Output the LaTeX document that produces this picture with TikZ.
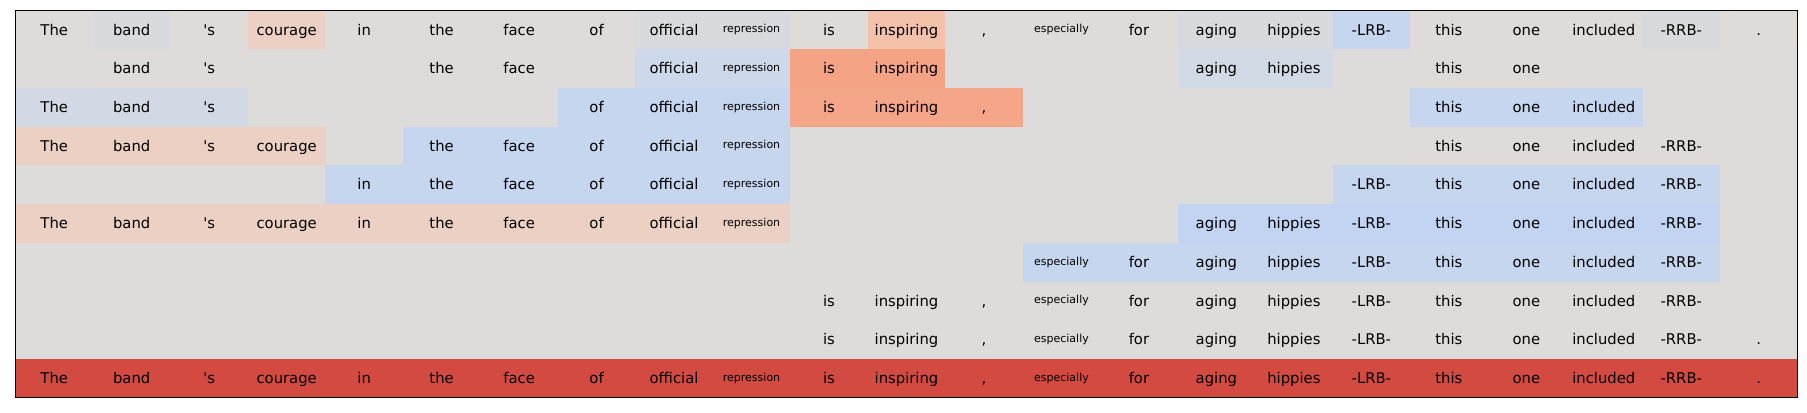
\documentclass[tikz,border=0pt]{standalone}
\usepackage{fontspec}
\setmainfont{DejaVu Sans}[Ligatures=TeXOff]
\definecolor{cellgray}{RGB}{221,220,219}
\definecolor{coolgray}{RGB}{216,218,222}
\definecolor{warmgray}{RGB}{223,219,216}
\definecolor{peach}{RGB}{235,208,195}
\definecolor{peachstrong}{RGB}{244,194,170}
\definecolor{salmon}{RGB}{245,163,133}
\definecolor{salmonlight}{RGB}{245,166,136}
\definecolor{paleblue}{RGB}{198,214,239}
\definecolor{greyblue}{RGB}{211,217,228}
\definecolor{midblue}{RGB}{205,216,235}
\definecolor{mistblue}{RGB}{210,218,230}
\definecolor{deepblue}{RGB}{194,212,242}
\definecolor{topred}{RGB}{211,75,64}
\newcommand{\smallword}[1]{\raisebox{2.3bp}{\fontsize{11bp}{13bp}\selectfont #1}}

\begin{document}
\begin{tikzpicture}[
    x=1bp, y=-1bp,
    cell/.style={rectangle, inner sep=0pt, minimum width=77.7bp, minimum height=38.9bp, text height=12.6bp, text depth=2bp, font=\fontsize{14.8bp}{17bp}\selectfont},
    frame/.style={draw=black, line width=1.2bp}
]
    \useasboundingbox[fill=white] (0,0) rectangle (1807,412);
    \fill[cellgray] (15.5,10.5) rectangle (1797.5,397.5);

    % Row 0: full sentence
    \foreach \c/\w/\f in {0/The/cellgray, 1/band/coolgray, 2/'s/warmgray, 3/courage/peach, 4/in/cellgray, 5/the/cellgray, 6/face/warmgray, 7/of/cellgray, 8/official/coolgray, 9/\smallword{repression}/coolgray, 10/is/warmgray, 11/inspiring/peachstrong, 12/{,}/cellgray, 13/\smallword{especially}/warmgray, 14/for/warmgray, 15/aging/coolgray, 16/hippies/coolgray, 17/-LRB-/paleblue, 18/this/warmgray, 19/one/cellgray, 20/included/cellgray, 21/-RRB-/coolgray, 22/./warmgray}
        \node[cell, fill=\f] (r0-\c) at ({15.5+(\c+0.5)*77.478}, 29.85) {\w};

    % Row 1
    \foreach \c/\w/\f in {1/band/warmgray, 2/'s/warmgray, 5/the/cellgray, 6/face/cellgray, 8/official/midblue, 9/\smallword{repression}/midblue, 10/is/salmon, 11/inspiring/salmon, 15/aging/mistblue, 16/hippies/mistblue, 18/this/warmgray, 19/one/warmgray}
        \node[cell, fill=\f] (r1-\c) at ({15.5+(\c+0.5)*77.478}, 68.55) {\w};

    % Row 2
    \foreach \c/\w/\f in {0/The/greyblue, 1/band/greyblue, 2/'s/greyblue, 7/of/paleblue, 8/official/paleblue, 9/\smallword{repression}/paleblue, 10/is/salmonlight, 11/inspiring/salmonlight, 12/{,}/salmonlight, 18/this/paleblue, 19/one/paleblue, 20/included/paleblue}
        \node[cell, fill=\f] (r2-\c) at ({15.5+(\c+0.5)*77.478}, 107.25) {\w};

    % Row 3
    \foreach \c/\w/\f in {0/The/peach, 1/band/peach, 2/'s/peach, 3/courage/peach, 5/the/paleblue, 6/face/paleblue, 7/of/paleblue, 8/official/paleblue, 9/\smallword{repression}/paleblue, 18/this/warmgray, 19/one/warmgray, 20/included/warmgray, 21/-RRB-/warmgray}
        \node[cell, fill=\f] (r3-\c) at ({15.5+(\c+0.5)*77.478}, 145.95) {\w};

    % Row 4
    \foreach \c/\w/\f in {4/in/paleblue, 5/the/paleblue, 6/face/paleblue, 7/of/paleblue, 8/official/paleblue, 9/\smallword{repression}/paleblue, 17/-LRB-/paleblue, 18/this/paleblue, 19/one/paleblue, 20/included/paleblue, 21/-RRB-/paleblue}
        \node[cell, fill=\f] (r4-\c) at ({15.5+(\c+0.5)*77.478}, 184.65) {\w};

    % Row 5
    \foreach \c/\w/\f in {0/The/peach, 1/band/peach, 2/'s/peach, 3/courage/peach, 4/in/peach, 5/the/peach, 6/face/peach, 7/of/peach, 8/official/peach, 9/\smallword{repression}/peach, 15/aging/deepblue, 16/hippies/deepblue, 17/-LRB-/deepblue, 18/this/deepblue, 19/one/deepblue, 20/included/deepblue, 21/-RRB-/deepblue}
        \node[cell, fill=\f] (r5-\c) at ({15.5+(\c+0.5)*77.478}, 223.35) {\w};

    % Row 6
    \foreach \c/\w in {13/\smallword{especially}, 14/for, 15/aging, 16/hippies, 17/-LRB-, 18/this, 19/one, 20/included, 21/-RRB-}
        \node[cell, fill=paleblue] (r6-\c) at ({15.5+(\c+0.5)*77.478}, 262.05) {\w};

    % Rows 7 and 8: plain words
    \foreach \c/\w in {10/is, 11/inspiring, 12/{,}, 13/\smallword{especially}, 14/for, 15/aging, 16/hippies, 17/-LRB-, 18/this, 19/one, 20/included, 21/-RRB-}
        \node[cell] (r7-\c) at ({15.5+(\c+0.5)*77.478}, 300.75) {\w};
    \foreach \c/\w in {10/is, 11/inspiring, 12/{,}, 13/\smallword{especially}, 14/for, 15/aging, 16/hippies, 17/-LRB-, 18/this, 19/one, 20/included, 21/-RRB-, 22/.}
        \node[cell] (r8-\c) at ({15.5+(\c+0.5)*77.478}, 339.45) {\w};

    % Row 9: reference sentence
    \foreach \c/\w in {0/The, 1/band, 2/'s, 3/courage, 4/in, 5/the, 6/face, 7/of, 8/official, 9/\smallword{repression}, 10/is, 11/inspiring, 12/{,}, 13/\smallword{especially}, 14/for, 15/aging, 16/hippies, 17/-LRB-, 18/this, 19/one, 20/included, 21/-RRB-, 22/.}
        \node[cell, fill=topred] (r9-\c) at ({15.5+(\c+0.5)*77.478}, 378.15) {\w};

    % Frame
    \draw[frame] (15.5,10.5) rectangle (1797.5,397.5);
\end{tikzpicture}
\end{document}
